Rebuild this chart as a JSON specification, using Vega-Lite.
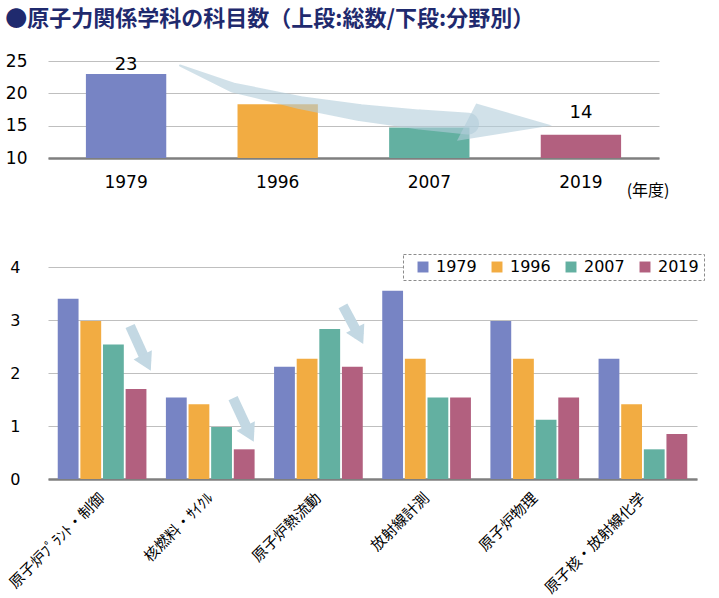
{
  "$schema": "https://vega.github.io/schema/vega-lite/v6.json",
  "background": "white",
  "padding": {"left": 5, "top": 8, "right": 5, "bottom": 0},
  "title": {
    "text": "●原子力関係学科の科目数（上段:総数/下段:分野別）",
    "anchor": "start",
    "font": "Noto Sans CJK JP",
    "fontSize": 22,
    "fontWeight": "bold",
    "color": "#1F2A6E",
    "offset": 21
  },
  "config": {
    "view": {"stroke": null},
    "font": "DejaVu Sans",
    "axis": {"labelColor": "black", "labelFont": "DejaVu Sans"}
  },
  "resolve": {"scale": {"color": "independent"}},
  "spacing": 55,
  "vconcat": [
    {
      "width": 611,
      "height": 97,
      "layer": [
        {
          "data": {
            "values": [
              {"year": "1979", "total": 23, "label": "23"},
              {"year": "1996", "total": 18.3},
              {"year": "2007", "total": 14.7},
              {"year": "2019", "total": 13.6, "label": "14"}
            ]
          },
          "encoding": {
            "x": {
              "field": "year", "type": "nominal", "sort": null,
              "scale": {"paddingInner": 0.47, "paddingOuter": 0.25},
              "axis": {
                "title": "(年度)", "titleX": 621, "titleY": 32, "titleAlign": "right",
                "titleBaseline": "middle", "titleFont": "Noto Sans CJK JP", "titleFontSize": 16,
                "titleFontWeight": "normal", "titleColor": "black",
                "labelAngle": 0, "labelFontSize": 17, "labelPadding": 16, "ticks": false,
                "domainColor": "#7F7F7F", "domainWidth": 2.5, "grid": false
              }
            },
            "y": {
              "field": "total", "type": "quantitative", "title": null,
              "scale": {"domain": [10, 25], "zero": false, "nice": false},
              "axis": {
                "values": [10, 15, 20, 25], "format": "d", "domain": false, "ticks": false, "grid": true,
                "gridColor": "#BFBFBF", "labelFontSize": 17, "labelPadding": 21
              }
            }
          },
          "layer": [
            {
              "mark": {"type": "bar"},
              "encoding": {
                "y2": {"datum": 10},
                "color": {
                  "field": "year", "type": "nominal", "legend": null,
                  "scale": {"domain": ["1979", "1996", "2007", "2019"], "range": ["#7784C4", "#F2AC42", "#63B0A1", "#B2607F"]}
                }
              }
            },
            {
              "transform": [{"filter": "datum.year === '1979'"}],
              "mark": {"type": "text", "dy": -9, "fontSize": 18, "baseline": "middle", "color": "black"},
              "encoding": {"text": {"field": "label"}}
            },
            {
              "transform": [{"filter": "datum.year === '2019'"}],
              "mark": {"type": "text", "dy": -22, "fontSize": 18, "baseline": "middle", "color": "black"},
              "encoding": {"text": {"field": "label"}}
            }
          ]
        },
        {
          "layer": [
            {
              "data": {
                "values": [
                  {"u": 0.356, "v": 24.31, "t": 0},
                  {"u": 0.706, "v": 20.9, "t": 0.4},
                  {"u": 1.148, "v": 18.57, "t": 0.55},
                  {"u": 1.543, "v": 17.02, "t": 0.75},
                  {"u": 1.939, "v": 15.94, "t": 0.9},
                  {"u": 2.256, "v": 15.32, "t": 1}
                ]
              },
              "mark": {"type": "trail", "color": "#B3CDDB", "opacity": 0.6},
              "encoding": {
                "x": {"field": "u", "type": "quantitative", "scale": {"domain": [-0.515, 3.516], "nice": false, "zero": false}, "axis": null},
                "y": {
                  "field": "v", "type": "quantitative", "title": null,
                  "axis": {
                    "values": [10, 15, 20, 25], "format": "d", "domain": false, "ticks": false, "grid": true,
                    "gridColor": "#BFBFBF", "labelFontSize": 17, "labelPadding": 21
                  }
                },
                "size": {"field": "t", "type": "quantitative", "scale": {"domain": [0, 1], "range": [2, 22]}, "legend": null},
                "order": {"field": "t"}
              }
            },
            {
              "data": {"values": [{"u": 2.5, "v": 15.47}]},
              "mark": {"type": "point", "shape": "M-0.6,-0.4L0.98,0.06L-1,0.375Z", "filled": true, "size": 9216, "color": "#B3CDDB", "opacity": 0.6},
              "encoding": {
                "x": {"field": "u", "type": "quantitative", "scale": {"domain": [-0.515, 3.516], "nice": false, "zero": false}, "axis": null},
                "y": {
                  "field": "v", "type": "quantitative", "title": null,
                  "axis": {
                    "values": [10, 15, 20, 25], "format": "d", "domain": false, "ticks": false, "grid": true,
                    "gridColor": "#BFBFBF", "labelFontSize": 17, "labelPadding": 21
                  }
                }
              }
            }
          ]
        }
      ],
      "resolve": {"scale": {"x": "independent"}}
    },
    {
      "width": 649,
      "height": 212,
      "layer": [
        {
          "data": {
            "values": [
              {"field": "原子炉ﾌﾟﾗﾝﾄ・制御", "year": "1979", "value": 3.40},
              {"field": "原子炉ﾌﾟﾗﾝﾄ・制御", "year": "1996", "value": 2.98},
              {"field": "原子炉ﾌﾟﾗﾝﾄ・制御", "year": "2007", "value": 2.54},
              {"field": "原子炉ﾌﾟﾗﾝﾄ・制御", "year": "2019", "value": 1.70},
              {"field": "核燃料・ｻｲｸﾙ", "year": "1979", "value": 1.54},
              {"field": "核燃料・ｻｲｸﾙ", "year": "1996", "value": 1.41},
              {"field": "核燃料・ｻｲｸﾙ", "year": "2007", "value": 0.98},
              {"field": "核燃料・ｻｲｸﾙ", "year": "2019", "value": 0.56},
              {"field": "原子炉熱流動", "year": "1979", "value": 2.12},
              {"field": "原子炉熱流動", "year": "1996", "value": 2.27},
              {"field": "原子炉熱流動", "year": "2007", "value": 2.83},
              {"field": "原子炉熱流動", "year": "2019", "value": 2.12},
              {"field": "放射線計測", "year": "1979", "value": 3.55},
              {"field": "放射線計測", "year": "1996", "value": 2.27},
              {"field": "放射線計測", "year": "2007", "value": 1.54},
              {"field": "放射線計測", "year": "2019", "value": 1.54},
              {"field": "原子炉物理", "year": "1979", "value": 2.98},
              {"field": "原子炉物理", "year": "1996", "value": 2.27},
              {"field": "原子炉物理", "year": "2007", "value": 1.12},
              {"field": "原子炉物理", "year": "2019", "value": 1.54},
              {"field": "原子核・放射線化学", "year": "1979", "value": 2.27},
              {"field": "原子核・放射線化学", "year": "1996", "value": 1.41},
              {"field": "原子核・放射線化学", "year": "2007", "value": 0.56},
              {"field": "原子核・放射線化学", "year": "2019", "value": 0.85}
            ]
          },
          "mark": {"type": "bar"},
          "encoding": {
            "x": {
              "field": "field", "type": "nominal",
              "sort": ["原子炉ﾌﾟﾗﾝﾄ・制御", "核燃料・ｻｲｸﾙ", "原子炉熱流動", "放射線計測", "原子炉物理", "原子核・放射線化学"],
              "scale": {"paddingInner": 0.18, "paddingOuter": 0.09},
              "axis": {
                "title": null, "labelAngle": -45, "labelAlign": "right", "labelBaseline": "middle",
                "labelFont": "Noto Sans CJK JP", "labelFontSize": 15, "labelPadding": 16,
                "ticks": false, "domainColor": "#7F7F7F", "domainWidth": 2.5, "grid": false
              }
            },
            "xOffset": {"field": "year", "type": "nominal", "scale": {"paddingInner": 0.08}},
            "y": {
              "field": "value", "type": "quantitative", "title": null,
              "scale": {"domain": [0, 4], "nice": false},
              "axis": {
                "values": [0, 1, 2, 3, 4], "format": "d", "domain": false, "ticks": false, "grid": true,
                "gridColor": "#BFBFBF", "labelFontSize": 16, "labelPadding": 28
              }
            },
            "color": {
              "field": "year", "type": "nominal",
              "scale": {"domain": ["1979", "1996", "2007", "2019"], "range": ["#7784C4", "#F2AC42", "#63B0A1", "#B2607F"]},
              "legend": {
                "orient": "none", "legendX": 355, "legendY": -13, "direction": "horizontal", "columns": 4,
                "title": null, "symbolType": "square", "symbolSize": 120, "symbolStrokeWidth": 0,
                "labelFontSize": 16, "labelFont": "DejaVu Sans", "labelColor": "black",
                "columnPadding": 5, "labelOffset": 5, "padding": 5, "symbolOffset": 7,
                "fillColor": "white", "strokeColor": "#8C8C8C",
                "encode": {"legend": {"update": {"strokeDash": {"value": [3, 2]}, "strokeWidth": {"value": 1}}}}
              }
            }
          }
        },
        {
          "data": {
            "values": [
              {"u1": 0.259, "v1": 2.887, "u2": 0.413, "v2": 2.193},
              {"u1": 1.211, "v1": 1.526, "u2": 1.365, "v2": 0.851},
              {"u1": 2.227, "v1": 3.265, "u2": 2.377, "v2": 2.698}
            ]
          },
          "layer": [
            {
              "mark": {"type": "rule", "color": "#C3D8E3", "strokeWidth": 10, "strokeCap": "butt"},
              "encoding": {
                "x": {"field": "u1", "type": "quantitative", "scale": {"domain": [-0.5, 5.5], "nice": false, "zero": false}, "axis": null},
                "x2": {"field": "u2"},
                "y": {"field": "v1", "type": "quantitative", "title": null},
                "y2": {"field": "v2"}
              }
            },
            {
              "mark": {"type": "point", "shape": "triangle-down", "filled": true, "size": 420, "angle": 333, "color": "#C3D8E3", "opacity": 1},
              "encoding": {
                "x": {"field": "u2", "type": "quantitative", "scale": {"domain": [-0.5, 5.5], "nice": false, "zero": false}, "axis": null},
                "y": {"field": "v2", "type": "quantitative", "title": null}
              }
            }
          ]
        }
      ],
      "resolve": {"scale": {"x": "independent"}}
    }
  ]
}
